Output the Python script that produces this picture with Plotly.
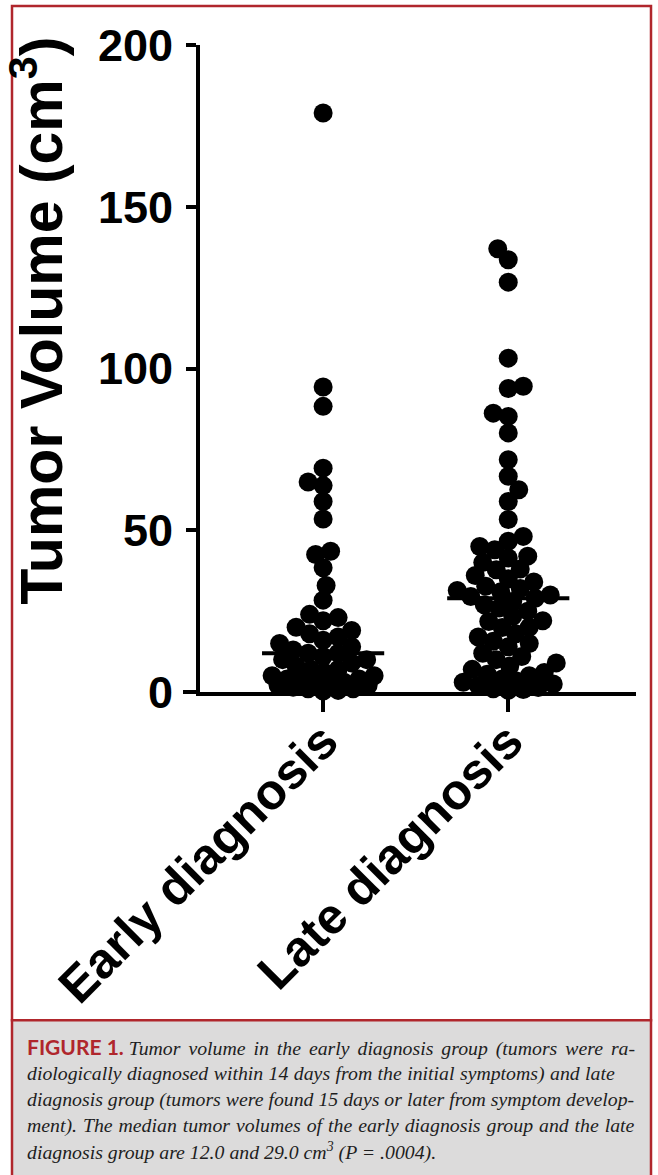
import numpy as np
import plotly.graph_objects as go

# ---------------- data ----------------
categories = ["Early diagnosis", "Late diagnosis"]

early_volumes = [179, 94.3, 88.3, 69.2, 64.9, 63.8, 58.9, 53.5, 43.5, 42.5, 38.4, 32.9,
                 28.4, 24, 23, 22, 20, 19, 18, 17, 16, 15, 14, 13, 12, 12,
                 11, 10, 10, 9, 8, 7, 7, 6, 5, 5, 4, 4, 3.5, 3, 3, 2.5, 2, 2,
                 1.5, 1, 1, 0.5, 0.3]

late_volumes = [137, 133.6, 126.7, 103.2, 94.5, 93.8, 86.2, 85.2, 80.1, 71.8, 66.7,
                62.5, 58.9, 53.3, 48.1, 46.6, 45, 44, 42, 41.4, 40, 38, 37.8, 36, 35,
                34, 32.7, 32, 31.4, 31, 30, 29.5, 29,
                28, 27, 26, 25, 23.4, 22, 21.8, 20, 19.9, 18, 17, 15.7, 15, 14, 12,
                11, 10, 9, 8, 7, 6, 5.5, 5, 4, 3.5, 3, 2.5, 2, 1.4, 1, 0.8, 0.5]

y_ticks = [0, 50, 100, 150, 200]
y_title = "Tumor Volume (cm<sup>3</sup>)"

caption_lines = [
    "Tumor volume in the early diagnosis group (tumors were ra-",
    "diologically diagnosed within 14 days from the initial symptoms) and late",
    "diagnosis group (tumors were found 15 days or later from symptom develop-",
    "ment). The median tumor volumes of the early diagnosis group and the late",
    "diagnosis group are 12.0 and 29.0 cm<sup>3</sup> (P = .0004).",
]

# ---------------- layout geometry ----------------
W, H = 658, 1175
ML, MR, MT = 200, 22, 45
PLOT_BOTTOM = 692.5
MB = H - PLOT_BOTTOM
PW = W - ML - MR
PH = PLOT_BOTTOM - MT
XR = [-0.665, 1.69]
YR = [0, 200]
px_per_x = PW / (XR[1] - XR[0])
px_per_y = PH / (YR[1] - YR[0])
DOT = 19
HALF_WIDTH = 52   # max horizontal spread of a group, px


def px2x(px):
    return (px - ML) / PW


def px2y(py):
    return (PLOT_BOTTOM - py) / PH


def swarm(values, center):
    """beeswarm: horizontal offsets computed from the values in pixel space,
    limited to a max spread (points overlap when crowded, like Prism)."""
    order = sorted(range(len(values)), key=lambda i: values[i])
    placed = []
    xs = [0.0] * len(values)
    mind = DOT * 0.78
    side = 1
    steps = np.arange(0, HALF_WIDTH + 0.1, 1.5)
    for i in order:
        y = values[i] * px_per_y
        cands = []
        for s in steps:
            cands.extend([0.0] if s == 0 else [side * s, -side * s])
        best, best_d = None, -1
        for off in cands:
            d = min([np.hypot(off - a, y - b) for a, b in placed] or [1e9])
            if d >= mind:
                best = off
                break
            if d > best_d:
                best_d, best = d, off
        if best != 0:
            side = -side
        placed.append((best, y))
        xs[i] = center + best / px_per_x
    return xs


fig = go.Figure()

groups = [early_volumes, late_volumes]
for gi, vals in enumerate(groups):
    med = float(np.median(vals))
    fig.add_trace(go.Scatter(x=[gi - 0.33, gi + 0.33], y=[med, med], mode="lines",
                             line=dict(color="black", width=4), showlegend=False,
                             hoverinfo="skip", cliponaxis=False))
for gi, vals in enumerate(groups):
    fig.add_trace(go.Scatter(x=swarm(vals, gi), y=vals, mode="markers",
                             marker=dict(color="black", size=DOT, line=dict(width=0)),
                             showlegend=False, cliponaxis=False, name=categories[gi]))

RED = "#b0262c"
shapes = [
    dict(type="rect", xref="paper", yref="paper", x0=px2x(12), x1=px2x(651),
         y0=px2y(1021), y1=px2y(6), line=dict(color=RED, width=2.5),
         fillcolor="rgba(0,0,0,0)", layer="below"),
    dict(type="rect", xref="paper", yref="paper", x0=px2x(12), x1=px2x(651),
         y0=px2y(1185), y1=px2y(1021), line=dict(color=RED, width=2.5),
         fillcolor="#dcdbdb", layer="below"),
    dict(type="line", xref="paper", yref="paper", x0=px2x(183), x1=0, y0=0, y1=0,
         line=dict(color="black", width=4)),
]

annotations = [
    dict(text=y_title, xref="paper", yref="paper", x=px2x(38), y=px2y(321),
         xanchor="center", yanchor="middle", textangle=-90, showarrow=False,
         font=dict(family="Liberation Sans, Arial", size=59, color="black", weight="bold")),
]

line_y = [1048, 1074, 1100, 1126, 1152]
word_spacing = [3, 0.5, 0, 1, 0]
for li, (txt, ly) in enumerate(zip(caption_lines, line_y)):
    body = ('<span style="word-spacing:%spx"><i>' % word_spacing[li]) + txt + "</i></span>"
    if li == 0:
        body = ('<span style="font-family:Lato;font-weight:bold;font-style:normal;font-size:21px;color:'
                + RED + '">FIGURE 1.</span> ' + body)
    annotations.append(dict(text=body, xref="paper", yref="paper", x=px2x(25), y=px2y(ly),
                            xanchor="left", yanchor="middle", showarrow=False, align="left",
                            font=dict(family="Liberation Serif", size=19.8, color="#1e1e1e")))

fig.update_layout(
    width=W, height=H,
    margin=dict(l=ML, r=MR, t=MT, b=MB, pad=0),
    paper_bgcolor="white", plot_bgcolor="white",
    shapes=shapes, annotations=annotations,
    xaxis=dict(range=XR, tickvals=[0, 1], ticktext=categories, tickangle=-45,
               showline=True, linecolor="black", linewidth=4, ticks="outside",
               ticklen=16, tickwidth=4, tickcolor="black", showgrid=False, zeroline=False,
               ticklabelstandoff=-20,
               tickfont=dict(family="Liberation Sans, Arial", size=50, color="black", weight="bold")),
    yaxis=dict(range=YR, tickvals=y_ticks, showline=True, linecolor="black", linewidth=4,
               ticks="outside", ticklen=10, tickwidth=4, tickcolor="black", showgrid=False,
               zeroline=False, ticklabelstandoff=4,
               tickfont=dict(family="Liberation Sans, Arial", size=45, color="black", weight="bold")),
)

fig.write_html("out.html", config={"displayModeBar": False},
               post_script="document.body.style.margin='0';"
                           "document.documentElement.style.overflow='hidden';"
                           "document.body.style.overflow='hidden';")
